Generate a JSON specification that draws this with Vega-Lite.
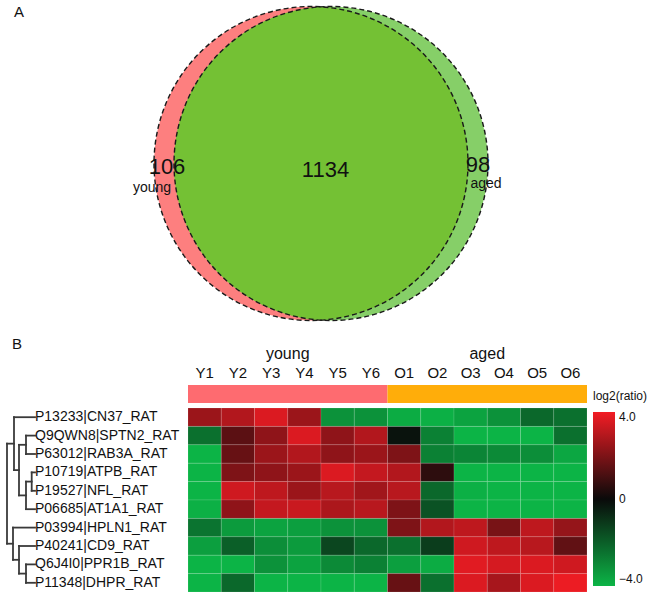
{
  "$schema": "https://vega.github.io/schema/vega-lite/v6.json",
  "padding": 0,
  "background": "white",
  "bounds": "flush",
  "spacing": 49,
  "resolve": {"scale": {"color": "independent"}, "legend": {"color": "independent"}},
  "config": {"view": {"stroke": null}, "font": "Liberation Sans"},
  "datasets": {
    "sets": [
      {"set": "young", "cx": -14, "cy": 4.5},
      {"set": "aged", "cx": 6, "cy": 4.5}
    ],
    "overlap": [{"region": "young and aged", "cx": -4, "cy": 4.5}],
    "venntext": [
      {"text": "A", "kind": "panel", "tx": -311, "ty": 156},
      {"text": "106", "kind": "count", "tx": -158, "ty": 1},
      {"text": "1134", "kind": "count", "tx": 0.5, "ty": -2},
      {"text": "98", "kind": "count", "tx": 153, "ty": 3.5},
      {"text": "young", "kind": "name", "tx": -173, "ty": -19.5},
      {"text": "aged", "kind": "name", "tx": 161, "ty": -16}
    ],
    "groups": [{"group": "young"}, {"group": "aged"}],
    "proteins": [
      {"protein": "P13233|CN37_RAT", "pos": 1},
      {"protein": "Q9QWN8|SPTN2_RAT", "pos": 2},
      {"protein": "P63012|RAB3A_RAT", "pos": 3},
      {"protein": "P10719|ATPB_RAT", "pos": 4},
      {"protein": "P19527|NFL_RAT", "pos": 5},
      {"protein": "P06685|AT1A1_RAT", "pos": 6},
      {"protein": "P03994|HPLN1_RAT", "pos": 7},
      {"protein": "P40241|CD9_RAT", "pos": 8},
      {"protein": "Q6J4I0|PPR1B_RAT", "pos": 9},
      {"protein": "P11348|DHPR_RAT", "pos": 10}
    ],
    "dendro": [
      {"h1": 0, "h2": 21, "p1": 1, "p2": 1},
      {"h1": 0, "h2": 9, "p1": 2, "p2": 2},
      {"h1": 0, "h2": 9, "p1": 3, "p2": 3},
      {"h1": 0, "h2": 3.3, "p1": 4, "p2": 4},
      {"h1": 0, "h2": 3.3, "p1": 5, "p2": 5},
      {"h1": 3.3, "h2": 9, "p1": 4.5, "p2": 4.5},
      {"h1": 0, "h2": 9, "p1": 6, "p2": 6},
      {"h1": 9, "h2": 16, "p1": 2.5, "p2": 2.5},
      {"h1": 9, "h2": 16, "p1": 5.25, "p2": 5.25},
      {"h1": 16, "h2": 21, "p1": 3.875, "p2": 3.875},
      {"h1": 21, "h2": 28, "p1": 2.4375, "p2": 2.4375},
      {"h1": 0, "h2": 22, "p1": 7, "p2": 7},
      {"h1": 0, "h2": 16, "p1": 8, "p2": 8},
      {"h1": 0, "h2": 9, "p1": 9, "p2": 9},
      {"h1": 0, "h2": 9, "p1": 10, "p2": 10},
      {"h1": 9, "h2": 16, "p1": 9.5, "p2": 9.5},
      {"h1": 16, "h2": 22, "p1": 8.75, "p2": 8.75},
      {"h1": 22, "h2": 28, "p1": 7.875, "p2": 7.875},
      {"h1": 3.3, "h2": 3.3, "p1": 4, "p2": 5},
      {"h1": 9, "h2": 9, "p1": 2, "p2": 3},
      {"h1": 9, "h2": 9, "p1": 4.5, "p2": 6},
      {"h1": 16, "h2": 16, "p1": 2.5, "p2": 5.25},
      {"h1": 21, "h2": 21, "p1": 1, "p2": 3.875},
      {"h1": 9, "h2": 9, "p1": 9, "p2": 10},
      {"h1": 16, "h2": 16, "p1": 8, "p2": 9.5},
      {"h1": 22, "h2": 22, "p1": 7, "p2": 8.75},
      {"h1": 28, "h2": 28, "p1": 2.4375, "p2": 7.875}
    ],
    "cells": [
      {"protein": "P13233|CN37_RAT", "sample": "Y1", "log2ratio": 2.5},
      {"protein": "P13233|CN37_RAT", "sample": "Y2", "log2ratio": 2.9},
      {"protein": "P13233|CN37_RAT", "sample": "Y3", "log2ratio": 3.6},
      {"protein": "P13233|CN37_RAT", "sample": "Y4", "log2ratio": 2.5},
      {"protein": "P13233|CN37_RAT", "sample": "Y5", "log2ratio": -3.2},
      {"protein": "P13233|CN37_RAT", "sample": "Y6", "log2ratio": -3.2},
      {"protein": "P13233|CN37_RAT", "sample": "O1", "log2ratio": -3.8},
      {"protein": "P13233|CN37_RAT", "sample": "O2", "log2ratio": -3.9},
      {"protein": "P13233|CN37_RAT", "sample": "O3", "log2ratio": -3.6},
      {"protein": "P13233|CN37_RAT", "sample": "O4", "log2ratio": -3.2},
      {"protein": "P13233|CN37_RAT", "sample": "O5", "log2ratio": -2.2},
      {"protein": "P13233|CN37_RAT", "sample": "O6", "log2ratio": -2.4},
      {"protein": "Q9QWN8|SPTN2_RAT", "sample": "Y1", "log2ratio": -2.4},
      {"protein": "Q9QWN8|SPTN2_RAT", "sample": "Y2", "log2ratio": 1.4},
      {"protein": "Q9QWN8|SPTN2_RAT", "sample": "Y3", "log2ratio": 2.3},
      {"protein": "Q9QWN8|SPTN2_RAT", "sample": "Y4", "log2ratio": 3.6},
      {"protein": "Q9QWN8|SPTN2_RAT", "sample": "Y5", "log2ratio": 2.3},
      {"protein": "Q9QWN8|SPTN2_RAT", "sample": "Y6", "log2ratio": 2.9},
      {"protein": "Q9QWN8|SPTN2_RAT", "sample": "O1", "log2ratio": -0.2},
      {"protein": "Q9QWN8|SPTN2_RAT", "sample": "O2", "log2ratio": -2.8},
      {"protein": "Q9QWN8|SPTN2_RAT", "sample": "O3", "log2ratio": -4},
      {"protein": "Q9QWN8|SPTN2_RAT", "sample": "O4", "log2ratio": -4},
      {"protein": "Q9QWN8|SPTN2_RAT", "sample": "O5", "log2ratio": -4},
      {"protein": "Q9QWN8|SPTN2_RAT", "sample": "O6", "log2ratio": -2.4},
      {"protein": "P63012|RAB3A_RAT", "sample": "Y1", "log2ratio": -4},
      {"protein": "P63012|RAB3A_RAT", "sample": "Y2", "log2ratio": 1.6},
      {"protein": "P63012|RAB3A_RAT", "sample": "Y3", "log2ratio": 2.5},
      {"protein": "P63012|RAB3A_RAT", "sample": "Y4", "log2ratio": 2.9},
      {"protein": "P63012|RAB3A_RAT", "sample": "Y5", "log2ratio": 2.3},
      {"protein": "P63012|RAB3A_RAT", "sample": "Y6", "log2ratio": 2.5},
      {"protein": "P63012|RAB3A_RAT", "sample": "O1", "log2ratio": 2.0},
      {"protein": "P63012|RAB3A_RAT", "sample": "O2", "log2ratio": -2.8},
      {"protein": "P63012|RAB3A_RAT", "sample": "O3", "log2ratio": -2.9},
      {"protein": "P63012|RAB3A_RAT", "sample": "O4", "log2ratio": -3.0},
      {"protein": "P63012|RAB3A_RAT", "sample": "O5", "log2ratio": -3.1},
      {"protein": "P63012|RAB3A_RAT", "sample": "O6", "log2ratio": -3.7},
      {"protein": "P10719|ATPB_RAT", "sample": "Y1", "log2ratio": -4},
      {"protein": "P10719|ATPB_RAT", "sample": "Y2", "log2ratio": 2.0},
      {"protein": "P10719|ATPB_RAT", "sample": "Y3", "log2ratio": 2.3},
      {"protein": "P10719|ATPB_RAT", "sample": "Y4", "log2ratio": 2.5},
      {"protein": "P10719|ATPB_RAT", "sample": "Y5", "log2ratio": 3.6},
      {"protein": "P10719|ATPB_RAT", "sample": "Y6", "log2ratio": 3.2},
      {"protein": "P10719|ATPB_RAT", "sample": "O1", "log2ratio": 2.9},
      {"protein": "P10719|ATPB_RAT", "sample": "O2", "log2ratio": 0.6},
      {"protein": "P10719|ATPB_RAT", "sample": "O3", "log2ratio": -4},
      {"protein": "P10719|ATPB_RAT", "sample": "O4", "log2ratio": -4},
      {"protein": "P10719|ATPB_RAT", "sample": "O5", "log2ratio": -4},
      {"protein": "P10719|ATPB_RAT", "sample": "O6", "log2ratio": -4},
      {"protein": "P19527|NFL_RAT", "sample": "Y1", "log2ratio": -4},
      {"protein": "P19527|NFL_RAT", "sample": "Y2", "log2ratio": 3.4},
      {"protein": "P19527|NFL_RAT", "sample": "Y3", "log2ratio": 3.1},
      {"protein": "P19527|NFL_RAT", "sample": "Y4", "log2ratio": 2.5},
      {"protein": "P19527|NFL_RAT", "sample": "Y5", "log2ratio": 3.0},
      {"protein": "P19527|NFL_RAT", "sample": "Y6", "log2ratio": 2.6},
      {"protein": "P19527|NFL_RAT", "sample": "O1", "log2ratio": 3.0},
      {"protein": "P19527|NFL_RAT", "sample": "O2", "log2ratio": -2.2},
      {"protein": "P19527|NFL_RAT", "sample": "O3", "log2ratio": -3.9},
      {"protein": "P19527|NFL_RAT", "sample": "O4", "log2ratio": -4},
      {"protein": "P19527|NFL_RAT", "sample": "O5", "log2ratio": -4},
      {"protein": "P19527|NFL_RAT", "sample": "O6", "log2ratio": -4},
      {"protein": "P06685|AT1A1_RAT", "sample": "Y1", "log2ratio": -3.9},
      {"protein": "P06685|AT1A1_RAT", "sample": "Y2", "log2ratio": 2.3},
      {"protein": "P06685|AT1A1_RAT", "sample": "Y3", "log2ratio": 3.2},
      {"protein": "P06685|AT1A1_RAT", "sample": "Y4", "log2ratio": 3.3},
      {"protein": "P06685|AT1A1_RAT", "sample": "Y5", "log2ratio": 2.8},
      {"protein": "P06685|AT1A1_RAT", "sample": "Y6", "log2ratio": 3.0},
      {"protein": "P06685|AT1A1_RAT", "sample": "O1", "log2ratio": 2.0},
      {"protein": "P06685|AT1A1_RAT", "sample": "O2", "log2ratio": -1.7},
      {"protein": "P06685|AT1A1_RAT", "sample": "O3", "log2ratio": -4},
      {"protein": "P06685|AT1A1_RAT", "sample": "O4", "log2ratio": -4},
      {"protein": "P06685|AT1A1_RAT", "sample": "O5", "log2ratio": -4},
      {"protein": "P06685|AT1A1_RAT", "sample": "O6", "log2ratio": -4},
      {"protein": "P03994|HPLN1_RAT", "sample": "Y1", "log2ratio": -2.5},
      {"protein": "P03994|HPLN1_RAT", "sample": "Y2", "log2ratio": -3.4},
      {"protein": "P03994|HPLN1_RAT", "sample": "Y3", "log2ratio": -3.6},
      {"protein": "P03994|HPLN1_RAT", "sample": "Y4", "log2ratio": -3.5},
      {"protein": "P03994|HPLN1_RAT", "sample": "Y5", "log2ratio": -3.2},
      {"protein": "P03994|HPLN1_RAT", "sample": "Y6", "log2ratio": -3.2},
      {"protein": "P03994|HPLN1_RAT", "sample": "O1", "log2ratio": 2.0},
      {"protein": "P03994|HPLN1_RAT", "sample": "O2", "log2ratio": 2.9},
      {"protein": "P03994|HPLN1_RAT", "sample": "O3", "log2ratio": 3.1},
      {"protein": "P03994|HPLN1_RAT", "sample": "O4", "log2ratio": 1.9},
      {"protein": "P03994|HPLN1_RAT", "sample": "O5", "log2ratio": 3.1},
      {"protein": "P03994|HPLN1_RAT", "sample": "O6", "log2ratio": 2.4},
      {"protein": "P40241|CD9_RAT", "sample": "Y1", "log2ratio": -3.5},
      {"protein": "P40241|CD9_RAT", "sample": "Y2", "log2ratio": -2.0},
      {"protein": "P40241|CD9_RAT", "sample": "Y3", "log2ratio": -3.1},
      {"protein": "P40241|CD9_RAT", "sample": "Y4", "log2ratio": -3.4},
      {"protein": "P40241|CD9_RAT", "sample": "Y5", "log2ratio": -1.4},
      {"protein": "P40241|CD9_RAT", "sample": "Y6", "log2ratio": -2.2},
      {"protein": "P40241|CD9_RAT", "sample": "O1", "log2ratio": -2.4},
      {"protein": "P40241|CD9_RAT", "sample": "O2", "log2ratio": -1.2},
      {"protein": "P40241|CD9_RAT", "sample": "O3", "log2ratio": 3.4},
      {"protein": "P40241|CD9_RAT", "sample": "O4", "log2ratio": 3.1},
      {"protein": "P40241|CD9_RAT", "sample": "O5", "log2ratio": 3.0},
      {"protein": "P40241|CD9_RAT", "sample": "O6", "log2ratio": 1.5},
      {"protein": "Q6J4I0|PPR1B_RAT", "sample": "Y1", "log2ratio": -4},
      {"protein": "Q6J4I0|PPR1B_RAT", "sample": "Y2", "log2ratio": -4},
      {"protein": "Q6J4I0|PPR1B_RAT", "sample": "Y3", "log2ratio": -3.2},
      {"protein": "Q6J4I0|PPR1B_RAT", "sample": "Y4", "log2ratio": -3.6},
      {"protein": "Q6J4I0|PPR1B_RAT", "sample": "Y5", "log2ratio": -3.0},
      {"protein": "Q6J4I0|PPR1B_RAT", "sample": "Y6", "log2ratio": -2.8},
      {"protein": "Q6J4I0|PPR1B_RAT", "sample": "O1", "log2ratio": -3.5},
      {"protein": "Q6J4I0|PPR1B_RAT", "sample": "O2", "log2ratio": -3.8},
      {"protein": "Q6J4I0|PPR1B_RAT", "sample": "O3", "log2ratio": 3.7},
      {"protein": "Q6J4I0|PPR1B_RAT", "sample": "O4", "log2ratio": 3.5},
      {"protein": "Q6J4I0|PPR1B_RAT", "sample": "O5", "log2ratio": 3.6},
      {"protein": "Q6J4I0|PPR1B_RAT", "sample": "O6", "log2ratio": 3.4},
      {"protein": "P11348|DHPR_RAT", "sample": "Y1", "log2ratio": -4},
      {"protein": "P11348|DHPR_RAT", "sample": "Y2", "log2ratio": -2.2},
      {"protein": "P11348|DHPR_RAT", "sample": "Y3", "log2ratio": -4},
      {"protein": "P11348|DHPR_RAT", "sample": "Y4", "log2ratio": -4},
      {"protein": "P11348|DHPR_RAT", "sample": "Y5", "log2ratio": -4},
      {"protein": "P11348|DHPR_RAT", "sample": "Y6", "log2ratio": -4},
      {"protein": "P11348|DHPR_RAT", "sample": "O1", "log2ratio": 1.6},
      {"protein": "P11348|DHPR_RAT", "sample": "O2", "log2ratio": -2.4},
      {"protein": "P11348|DHPR_RAT", "sample": "O3", "log2ratio": 3.6},
      {"protein": "P11348|DHPR_RAT", "sample": "O4", "log2ratio": 2.7},
      {"protein": "P11348|DHPR_RAT", "sample": "O5", "log2ratio": 3.6},
      {"protein": "P11348|DHPR_RAT", "sample": "O6", "log2ratio": 3.9}
    ]
  },
  "vconcat": [
    {
      "width": 650,
      "height": 336,
      "layer": [
        {
          "data": {"name": "sets"},
          "mark": {"type": "point", "shape": "circle", "filled": true, "opacity": 1, "size": 98596, "strokeWidth": 0},
          "encoding": {
            "x": {"field": "cx", "type": "quantitative", "scale": {"domain": [-325, 325], "nice": false, "zero": false}, "axis": null},
            "y": {"field": "cy", "type": "quantitative", "scale": {"domain": [-168, 168], "nice": false, "zero": false}, "axis": null},
            "color": {"field": "set", "type": "nominal", "scale": {"domain": ["young", "aged"], "range": ["#fd7f7f", "#86cf68"]}, "legend": null}
          }
        },
        {
          "data": {"name": "overlap"},
          "mark": {"type": "point", "shape": "M0,-0.998A1,1,0,0,1,0,0.998A1,1,0,0,1,0,-0.998Z", "filled": true, "opacity": 1, "size": 98596, "strokeWidth": 0, "color": "#74c134"},
          "encoding": {
            "x": {"field": "cx", "type": "quantitative"},
            "y": {"field": "cy", "type": "quantitative"}
          }
        },
        {
          "data": {"name": "sets"},
          "mark": {"type": "point", "shape": "circle", "filled": false, "opacity": 1, "size": 98596, "color": "#1a1a1a", "strokeWidth": 1.4, "strokeDash": [5, 3]},
          "encoding": {
            "x": {"field": "cx", "type": "quantitative"},
            "y": {"field": "cy", "type": "quantitative"}
          }
        },
        {
          "data": {"name": "venntext"},
          "transform": [{"filter": "datum.kind == 'count'"}],
          "mark": {"type": "text", "font": "Liberation Sans", "fontSize": 22, "color": "#111"},
          "encoding": {
            "x": {"field": "tx", "type": "quantitative"},
            "y": {"field": "ty", "type": "quantitative"},
            "text": {"field": "text"}
          }
        },
        {
          "data": {"name": "venntext"},
          "transform": [{"filter": "datum.kind == 'name'"}],
          "mark": {"type": "text", "font": "Liberation Sans", "fontSize": 14, "color": "#111"},
          "encoding": {
            "x": {"field": "tx", "type": "quantitative"},
            "y": {"field": "ty", "type": "quantitative"},
            "text": {"field": "text"}
          }
        },
        {
          "data": {"name": "venntext"},
          "transform": [{"filter": "datum.kind == 'panel'"}],
          "mark": {"type": "text", "font": "Liberation Sans", "fontSize": 15, "align": "left", "color": "#111"},
          "encoding": {
            "x": {"field": "tx", "type": "quantitative"},
            "y": {"field": "ty", "type": "quantitative"},
            "text": {"field": "text"}
          }
        }
      ]
    },
    {
      "bounds": "flush",
      "spacing": 23,
      "resolve": {"scale": {"color": "independent"}, "legend": {"color": "independent"}},
      "vconcat": [
        {
          "bounds": "flush",
          "spacing": 0,
          "hconcat": [
            {
              "width": 188,
              "height": 18,
              "data": {"values": []},
              "mark": "rect",
              "title": {"text": "B", "anchor": "start", "offset": 33, "dx": 12, "fontSize": 15, "fontWeight": "normal", "font": "Liberation Sans", "color": "#111"}
            },
            {
              "width": 399,
              "height": 18,
              "data": {"name": "groups"},
              "mark": {"type": "rect"},
              "encoding": {
                "x": {"field": "group", "type": "nominal", "sort": null, "scale": {"paddingInner": 0, "paddingOuter": 0},
                  "axis": {"orient": "top", "title": null, "ticks": false, "tickSize": 0, "domain": false, "labelPadding": 24, "labelFont": "Liberation Sans", "labelFontSize": 16, "labelColor": "#111", "labelAngle": 0}},
                "color": {"field": "group", "type": "nominal", "scale": {"domain": ["young", "aged"], "range": ["#fe6b70", "#ffad0a"]}, "legend": null}
              }
            }
          ]
        },
        {
          "bounds": "flush",
          "spacing": 0,
          "resolve": {"scale": {"color": "independent"}, "legend": {"color": "independent"}},
          "hconcat": [
            {
              "width": 188,
              "height": 184,
              "layer": [
                {
                  "data": {"name": "dendro"},
                  "mark": {"type": "rule", "color": "#3a3a3a", "strokeWidth": 1.8, "strokeCap": "square"},
                  "encoding": {
                    "x": {"field": "h1", "type": "quantitative", "scale": {"domain": [28, 0], "range": [7, 35], "nice": false, "zero": false}, "axis": null},
                    "x2": {"field": "h2"},
                    "y": {"field": "p1", "type": "quantitative", "scale": {"domain": [0.5, 10.5], "reverse": true, "nice": false, "zero": false}, "axis": null},
                    "y2": {"field": "p2"}
                  }
                },
                {
                  "data": {"name": "proteins"},
                  "mark": {"type": "text", "align": "left", "dx": 0, "font": "Liberation Sans", "fontSize": 14, "color": "#111"},
                  "encoding": {
                    "x": {"datum": 0, "type": "quantitative"},
                    "y": {"field": "pos", "type": "quantitative"},
                    "text": {"field": "protein"}
                  }
                }
              ]
            },
            {
              "width": 399,
              "height": 184,
              "data": {"name": "cells"},
              "mark": {"type": "rect", "stroke": "#ffffff", "strokeOpacity": 0.12, "strokeWidth": 1},
              "encoding": {
                "x": {"field": "sample", "type": "nominal", "sort": null, "scale": {"paddingInner": 0, "paddingOuter": 0},
                  "axis": {"orient": "top", "title": null, "ticks": false, "tickSize": 0, "domain": false, "labelPadding": 28, "labelFont": "Liberation Sans", "labelFontSize": 15, "labelColor": "#111", "labelAngle": 0}},
                "y": {"field": "protein", "type": "nominal", "sort": null, "scale": {"paddingInner": 0, "paddingOuter": 0}, "axis": null},
                "color": {
                  "field": "log2ratio", "type": "quantitative",
                  "scale": {"domain": [-4, 0, 4], "range": ["#0cb446", "#0a0a0a", "#f21c24"], "interpolate": "rgb"},
                  "legend": {
                    "title": "log2(ratio)", "orient": "none", "legendX": 405, "legendY": -17, "padding": 0,
                    "titlePadding": 9, "titleFont": "Liberation Sans", "titleFontSize": 12, "titleFontWeight": "normal", "titleColor": "#111",
                    "values": [-4, 0, 4], "labelExpr": "datum.value == 0 ? '0' : format(datum.value, '.1f')",
                    "labelFont": "Liberation Sans", "labelFontSize": 12, "labelColor": "#111", "labelOffset": 4,
                    "gradientLength": 174, "gradientThickness": 22, "gradientStrokeWidth": 0
                  }
                }
              }
            }
          ]
        }
      ]
    }
  ]
}
